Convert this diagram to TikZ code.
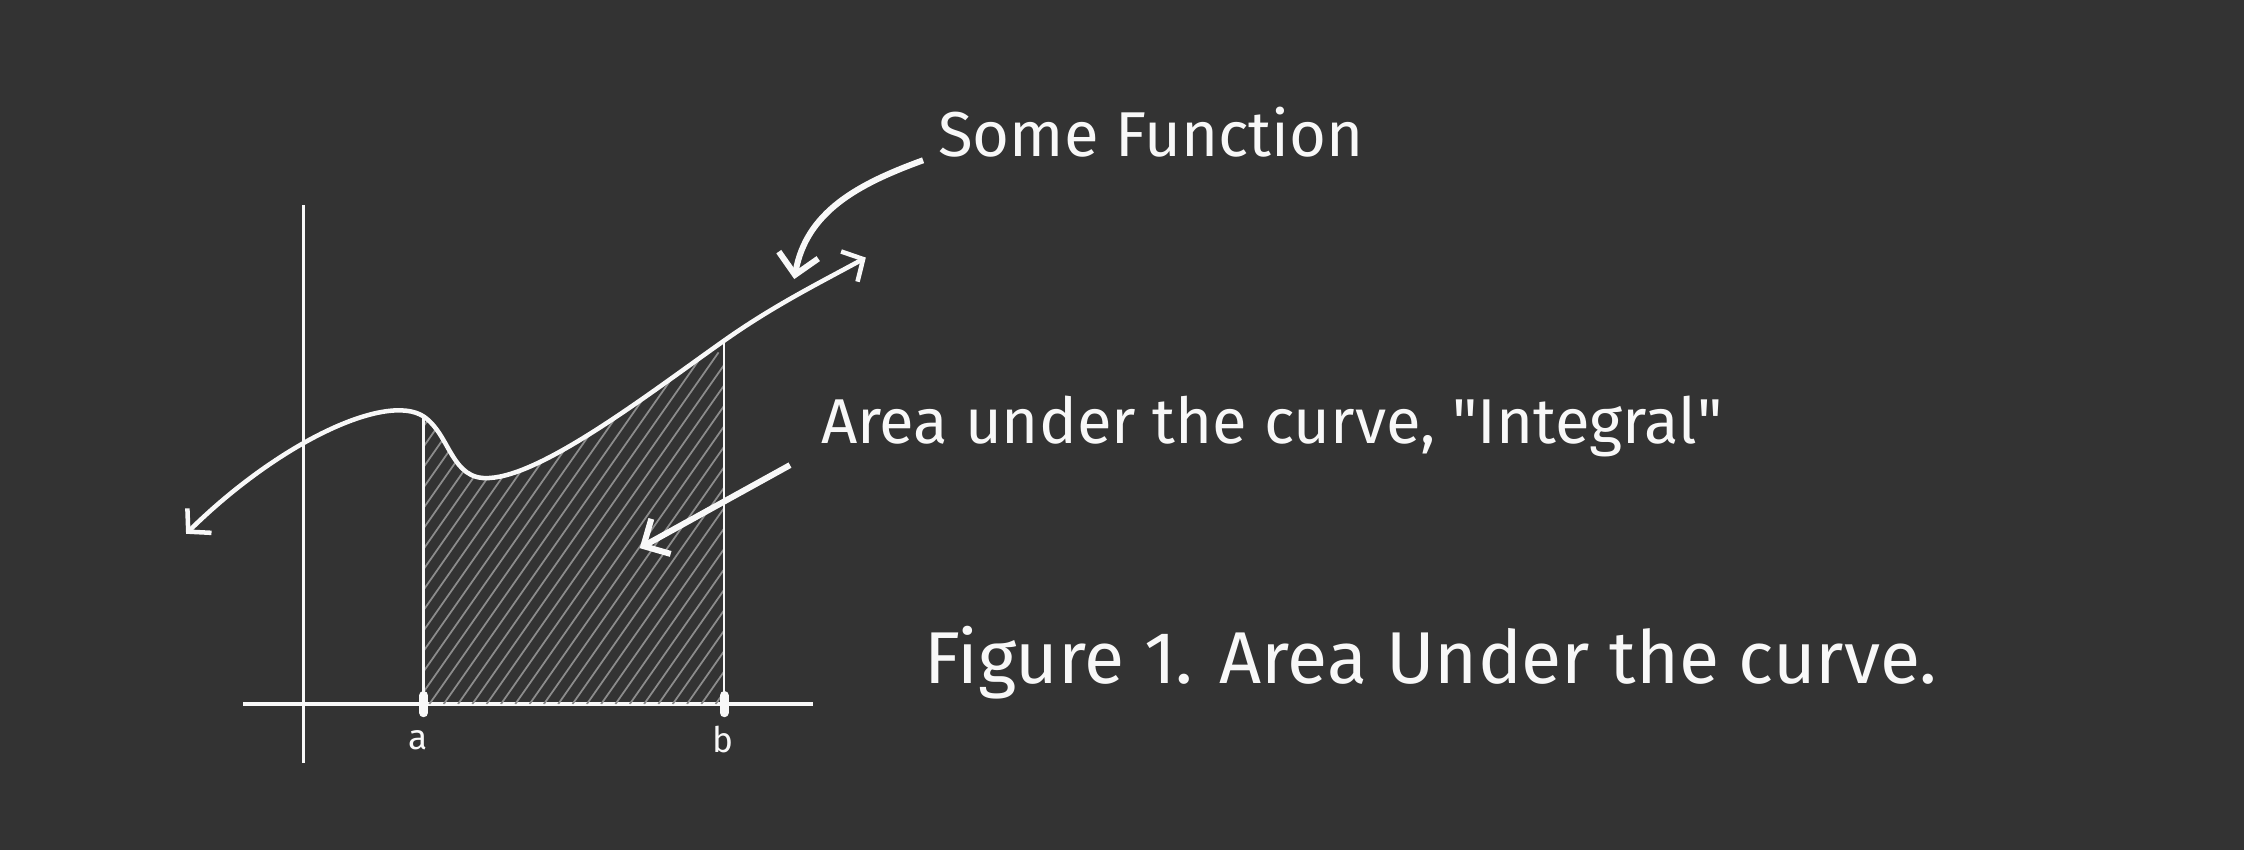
\documentclass[tikz,border=0pt]{standalone}
\usepackage{fontspec}
\setmainfont{Fira Sans}
\usetikzlibrary{arrows.meta}
\definecolor{board}{RGB}{51,51,51}
\definecolor{chalk}{RGB}{248,248,248}
\definecolor{hatchgray}{RGB}{140,140,140}

\begin{document}
\begin{tikzpicture}[
  axis/.style={chalk,line width=0.7pt},
  bound/.style={chalk,line width=0.5pt},
  fcurve/.style={chalk,line width=0.9pt,{Straight Barb[length=1.1mm,width=2.4mm]}-{Straight Barb[length=1.1mm,width=2.4mm]}},
  hatch/.style={hatchgray,line width=0.35pt},
  tick/.style={chalk,line width=1.8pt,line cap=round},
  note/.style={chalk,line width=1.2pt,-{Straight Barb[length=1.4mm,width=2.8mm]}},
  txt/.style={chalk,inner sep=0pt,anchor=west},
  lbl/.style={chalk,inner sep=0pt,font=\fontsize{7}{8}\selectfont}
]
\fill[board] (0,0) rectangle (15.68,5.94);

\draw[axis] (2.12,0.61) -- (2.12,4.51);
\draw[axis] (1.70,1.02) -- (5.68,1.02);

\begin{scope}
\clip (2.96,1.02) rectangle (5.06,4.5);
\clip (1.30,2.21) .. controls (1.95,2.85) and (2.70,3.20) .. (2.96,3.03)
  .. controls (3.15,2.90) and (3.15,2.58) .. (3.42,2.60)
  .. controls (3.80,2.62) and (4.55,3.20) .. (5.06,3.56)
  .. controls (5.40,3.80) and (5.70,3.95) .. (6.05,4.14)
  -- (6.05,1.02) -- (1.30,1.02) -- cycle;
\foreach \k in {0,...,40}
  \draw[hatch] (1.1+0.1*\k,1.02) -- ++(55:3);
\end{scope}

\draw[bound] (2.96,1.02) -- (2.96,3.03);
\draw[bound] (5.06,1.02) -- (5.06,3.56);
\draw[tick] (2.96,0.96) -- (2.96,1.08);
\draw[tick] (5.06,0.96) -- (5.06,1.08);

\draw[fcurve] (1.30,2.21) .. controls (1.95,2.85) and (2.70,3.20) .. (2.96,3.03)
  .. controls (3.15,2.90) and (3.15,2.58) .. (3.42,2.60)
  .. controls (3.80,2.62) and (4.55,3.20) .. (5.06,3.56)
  .. controls (5.40,3.80) and (5.70,3.95) .. (6.05,4.14);

\node[lbl] (la) at (2.92,0.77) {a};
\node[lbl] (lb) at (5.05,0.77) {b};

\node[txt,font=\fontsize{12.6}{14}\selectfont] (somefn) at (6.55,5.02) {Some Function};
\node[txt,font=\fontsize{12.6}{15}\selectfont] (area) at (5.73,2.96) {Area under the curve, \textquotedbl Integral\textquotedbl};
\node[txt,font=\fontsize{14.6}{17}\selectfont] (caption) at (6.45,1.31) {Figure 1. Area Under the curve.};

\coordinate (fntip) at (5.55,3.99);
\coordinate (areatip) at (4.47,2.11);
\draw[note] ([shift={(-0.10,-0.20)}]somefn.west) to[out=200,in=80] (fntip);
\draw[note] ([shift={(-0.21,-0.27)}]area.west) -- (areatip);
\end{tikzpicture}
\end{document}
